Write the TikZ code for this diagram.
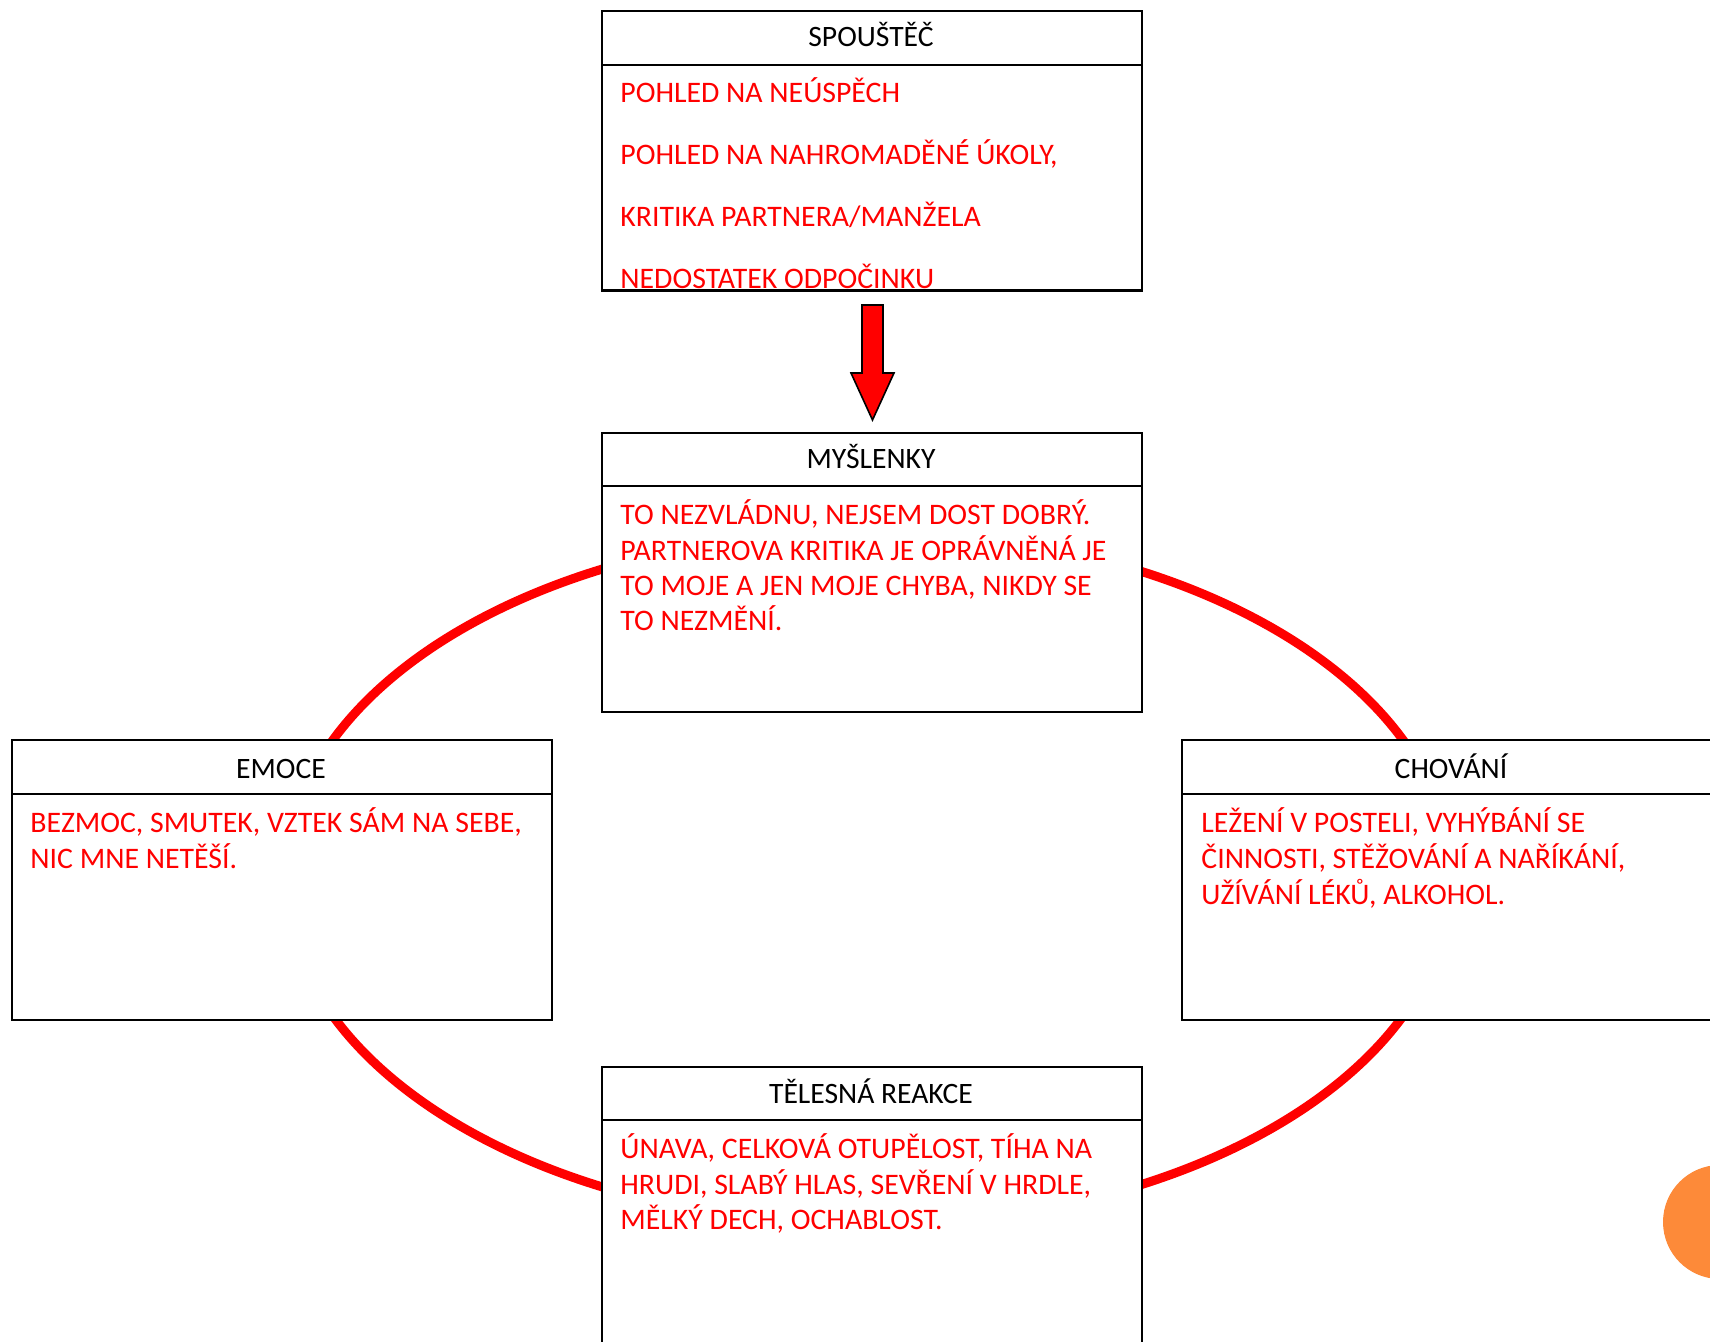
\documentclass[tikz,border=0pt]{standalone}
\usepackage{fontspec}
\setmainfont{Carlito}
\definecolor{txtred}{RGB}{255,0,0}
\definecolor{orng}{RGB}{253,138,57}
\begin{document}
\begin{tikzpicture}[x=0.5pt,y=-0.5pt,
  box/.style={draw=black,line width=1pt,fill=white,rectangle,minimum width=270pt,inner sep=0pt,anchor=north west},
  hdr/.style={draw=black,line width=1pt},
  ttl/.style={font=\fontsize{14.8}{17}\selectfont,text=black,anchor=base,inner sep=0pt},
  body/.style={font=\fontsize{14.9}{17}\selectfont,text=txtred,anchor=base west,inner sep=0pt},
  loopline/.style={draw=txtred,line width=4.5pt},
  bigarrow/.style={draw=black,line width=0.8pt,fill=txtred,line join=miter}]
\useasboundingbox (0,0) rectangle (1710,1342);
\begin{scope}
\clip (0,0) rectangle (1710,1342);
% cycle
\draw[loopline] (868,878) ellipse [x radius=583,y radius=347];
% boxes
\node[box,minimum height=139.5pt] (trig) at (601,10) {};
\draw[hdr] ([yshift=-27.5pt]trig.north west) -- ([yshift=-27.5pt]trig.north east);
\node[box,minimum height=139.5pt] (thou) at (601,432) {};
\draw[hdr] ([yshift=-27pt]thou.north west) -- ([yshift=-27pt]thou.north east);
\node[box,minimum height=140pt] (emo) at (11,739) {};
\draw[hdr] ([yshift=-27.5pt]emo.north west) -- ([yshift=-27.5pt]emo.north east);
\node[box,minimum height=140pt] (beh) at (1181,739) {};
\draw[hdr] ([yshift=-27.5pt]beh.north west) -- ([yshift=-27.5pt]beh.north east);
\node[box,minimum height=160pt] (body) at (601,1066) {};
\draw[hdr] ([yshift=-27pt]body.north west) -- ([yshift=-27pt]body.north east);
% titles
\node[ttl] (t1) at (871,47) {SPOUŠTĚČ};
\node[ttl] (t2) at (871,469) {MYŠLENKY};
\node[ttl] (t3) at (281,778) {EMOCE};
\node[ttl] (t4) at (1451,778) {CHOVÁNÍ};
\node[ttl] (t5) at (871,1103) {TĚLESNÁ REAKCE};
% trigger text
\node[body] (a1) at (620,103) {POHLED NA NEÚSPĚCH};
\node[body] (a2) at (620,165) {POHLED NA NAHROMADĚNÉ ÚKOLY,};
\node[body] (a3) at (620,227) {KRITIKA PARTNERA/MANŽELA};
\node[body] (a4) at (620,289) {NEDOSTATEK ODPOČINKU};
\draw[line width=1pt] (trig.south west) -- (trig.south east);
% thoughts
\node[body] (b1) at (620,525) {TO NEZVLÁDNU, NEJSEM DOST DOBRÝ.};
\node[body] (b2) at (620,561) {PARTNEROVA KRITIKA JE OPRÁVNĚNÁ JE};
\node[body] (b3) at (620,596) {TO MOJE A JEN MOJE CHYBA, NIKDY SE};
\node[body] (b4) at (620,631) {TO NEZMĚNÍ.};
% emotions
\node[body] (c1) at (30,833) {BEZMOC, SMUTEK, VZTEK SÁM NA SEBE,};
\node[body] (c2) at (30,868) {NIC MNE NETĚŠÍ.};
% behaviour
\node[body] (d1) at (1201,833) {LEŽENÍ V POSTELI, VYHÝBÁNÍ SE};
\node[body] (d2) at (1201,868) {ČINNOSTI, STĚŽOVÁNÍ A NAŘÍKÁNÍ,};
\node[body] (d3) at (1201,904) {UŽÍVÁNÍ LÉKŮ, ALKOHOL.};
% body reaction
\node[body] (e1) at (620,1158) {ÚNAVA, CELKOVÁ OTUPĚLOST, TÍHA NA};
\node[body] (e2) at (620,1194) {HRUDI, SLABÝ HLAS, SEVŘENÍ V HRDLE,};
\node[body] (e3) at (620,1229) {MĚLKÝ DECH, OCHABLOST.};
% arrow
\draw[bigarrow] (862,305) -- (883,305) -- (883,373) -- (894,373) -- (872.5,420) -- (851,373) -- (862,373) -- cycle;
% orange dot
\fill[orng] (1720,1222) circle [radius=57];
\end{scope}
\end{tikzpicture}
\end{document}
